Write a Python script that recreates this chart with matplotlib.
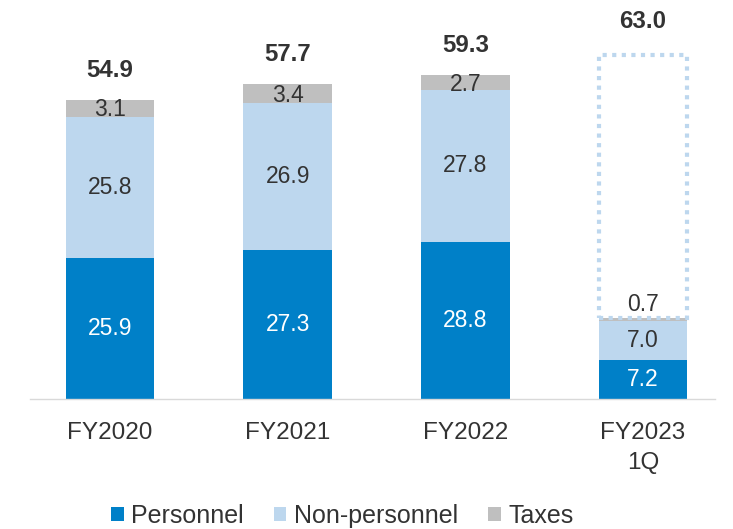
import matplotlib
matplotlib.use("Agg")
import matplotlib.pyplot as plt
from matplotlib.patches import Rectangle

plt.rcParams['font.family'] = ['Liberation Sans', 'DejaVu Sans']

categories = ["FY2020", "FY2021", "FY2022", "FY2023\n1Q"]
personnel = [25.9, 27.3, 28.8, 7.2]
non_personnel = [25.8, 26.9, 27.8, 7.0]
taxes = [3.1, 3.4, 2.7, 0.7]
totals = [54.9, 57.7, 59.3, 63.0]

c_pers = "#0080C8"
c_non = "#BDD7EE"
c_tax = "#BFBFBF"
c_text = "#333333"

fig = plt.figure(figsize=(7.33, 5.29), dpi=100)
ax = fig.add_axes([30/733, 130/529, 685/733, 379/529])
x = list(range(len(categories)))
w = 0.5

ax.bar(x, personnel, w, color=c_pers, label="Personnel")
b2 = [p for p in personnel]
ax.bar(x, non_personnel, w, bottom=b2, color=c_non, label="Non-personnel")
b3 = [p + n for p, n in zip(personnel, non_personnel)]
ax.bar(x, taxes, w, bottom=b3, color=c_tax, label="Taxes")

fs = 16.5
fs_tot = 17.3
for i in x:
    ax.text(i, personnel[i] / 2, f"{personnel[i]:.1f}", ha="center", va="center",
            color="white", fontsize=fs)
    ax.text(i, personnel[i] + non_personnel[i] / 2, f"{non_personnel[i]:.1f}",
            ha="center", va="center", color=c_text, fontsize=fs)
    top = b3[i] + taxes[i]
    if i < 3:
        ax.text(i, b3[i] + taxes[i] / 2 - 0.3, f"{taxes[i]:.1f}", ha="center", va="center",
                color=c_text, fontsize=fs)
        ax.annotate(f"{totals[i]:.1f}", (i, top), xytext=(0, 13), textcoords="offset points",
                    ha="center", va="bottom", fontsize=fs_tot, fontweight="bold", color=c_text)
    else:
        ax.annotate(f"{taxes[i]:.1f}", (i, top), xytext=(0, 1), textcoords="offset points",
                    ha="center", va="bottom", fontsize=fs, color=c_text)
        rect = Rectangle((i - w / 2, top), w, totals[i] - top, fill=False,
                         edgecolor=c_non, linewidth=3, linestyle=(0, (1, 1.3)))
        ax.add_patch(rect)
        ax.annotate(f"{totals[i]:.1f}", (i, totals[i]), xytext=(0, 16), textcoords="offset points",
                    ha="center", va="bottom", fontsize=fs_tot, fontweight="bold", color=c_text)

ax.set_xlim(-0.45, 3.405)
ax.set_ylim(0, 69.4)
ax.set_xticks(x)
ax.set_xticklabels(categories, fontsize=17.5, color=c_text, linespacing=1.5)
ax.tick_params(axis="x", length=0, pad=16.5)
ax.set_yticks([])
for s in ["top", "left", "right"]:
    ax.spines[s].set_visible(False)
ax.spines["bottom"].set_color("#D9D9D9")
ax.spines["bottom"].set_linewidth(1)

fig.legend(loc="center", bbox_to_anchor=(0.467, 1 - 516/529), ncol=3, frameon=False,
           fontsize=18, handlelength=0.5, handleheight=0.5, handletextpad=0.3,
           columnspacing=1.2, labelcolor=c_text, borderpad=0)

fig.savefig("out.png", dpi=100)
